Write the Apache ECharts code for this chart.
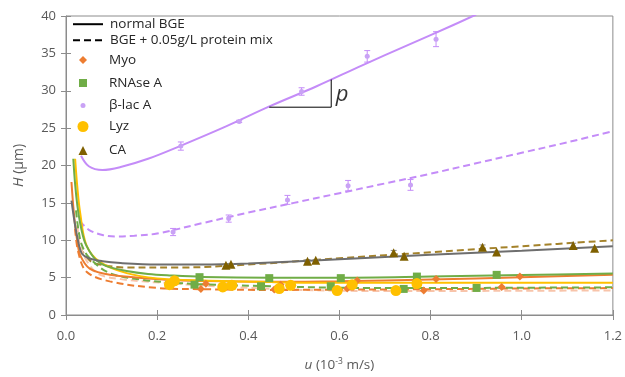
<!DOCTYPE html>
<html>
<head>
<meta charset="utf-8">
<script src="https://cdn.jsdelivr.net/npm/echarts@6/dist/echarts.min.js"></script>
<style>
  html, body { margin: 0; padding: 0; background: #fff; }
  #chart { width: 625px; height: 377px; }
</style>
</head>
<body>
<div id="chart"></div>
<script>
// ---- measured points (u in 1e-3 m/s, H in um, e = error half-width) ----
const blacNormalU = [0.252, 0.380, 0.517, 0.661, 0.812];
const blacNormalH = [22.6, 25.9, 29.9, 34.6, 36.9];
const blacNormalE = [0.55, 0.15, 0.5, 0.77, 1.0];
const blacMixU = [0.235, 0.357, 0.486, 0.619, 0.756];
const blacMixH = [11.1, 12.9, 15.4, 17.3, 17.4];
const blacMixE = [0.48, 0.48, 0.6, 0.7, 0.72];

const myoNormalU = [0.307, 0.471, 0.639, 0.812, 0.996];
const myoNormalH = [4.19, 4.05, 4.62, 4.8, 5.14];
const myoMixU = [0.296, 0.457, 0.617, 0.785, 0.956];
const myoMixH = [3.49, 3.4, 3.53, 3.27, 3.75];

const rnaseNormalU = [0.293, 0.446, 0.603, 0.770, 0.945];
const rnaseNormalH = [5.06, 4.93, 4.93, 5.14, 5.37];
const rnaseMixU = [0.282, 0.428, 0.581, 0.741, 0.901];
const rnaseMixH = [4.06, 3.84, 3.84, 3.49, 3.62];

const lyzNormalU = [0.238, 0.364, 0.493, 0.628, 0.770];
const lyzNormalH = [4.58, 3.97, 3.97, 4.06, 4.2];
const lyzMixU = [0.227, 0.344, 0.468, 0.595, 0.724];
const lyzMixH = [4.06, 3.75, 3.53, 3.27, 3.27];

const caNormalU = [0.362, 0.548, 0.742, 0.945, 1.16];
const caNormalH = [6.8, 7.33, 7.85, 8.42, 8.94];
const caNormalE = [0.1, 0.1, 0.1, 0.12, 0.15];
const caMixU = [0.351, 0.530, 0.719, 0.914, 1.113];
const caMixH = [6.67, 7.2, 8.34, 9.07, 9.3];
const caMixE = [0.15, 0.2, 0.3, 0.3, 0.3];

// ---- fitted van Deemter curves ----
const blacNormalFitU = [0.033, 0.05, 0.08, 0.12, 0.18, 0.25, 0.35, 0.45, 0.55, 0.65, 0.75, 0.85, 0.9];
const blacNormalFitH = [21.3, 19.9, 19.4, 19.8, 20.9, 22.6, 25.2, 28.0, 30.6, 33.4, 36.1, 38.8, 40.2];
const blacMixFitU = [0.03, 0.05, 0.08, 0.11, 0.15, 0.2, 0.3, 0.4, 0.5, 0.6, 0.7, 0.8, 0.9, 1.0, 1.1, 1.2];
const blacMixFitH = [12.6, 11.4, 10.7, 10.5, 10.6, 10.9, 12.3, 13.7, 15.0, 16.3, 17.6, 18.9, 20.3, 21.7, 23.1, 24.6];

const caNormalFitU = [0.012, 0.02, 0.028, 0.035, 0.05, 0.08, 0.12, 0.2, 0.3, 0.4, 0.6, 0.8, 1.0, 1.2];
const caNormalFitH = [15.3, 12.0, 9.5, 8.2, 7.6, 7.2, 6.95, 6.75, 6.75, 6.9, 7.45, 8.05, 8.6, 9.2];
const caMixFitU = [0.03, 0.056, 0.08, 0.13, 0.25, 0.4, 0.6, 0.8, 1.0, 1.2];
const caMixFitH = [9.0, 7.1, 6.7, 6.35, 6.35, 6.75, 7.6, 8.4, 9.2, 10.0];

const rnaseNormalFitU = [0.016, 0.02, 0.025, 0.031, 0.041, 0.055, 0.067, 0.09, 0.133, 0.18, 0.227, 0.3, 0.45, 0.6, 0.8, 1.0, 1.2];
const rnaseNormalFitH = [20.9, 17.5, 14.6, 12.3, 9.8, 8.2, 7.3, 6.5, 5.9, 5.5, 5.3, 5.1, 5.0, 5.0, 5.15, 5.35, 5.55];
const rnaseMixFitU = [0.022, 0.027, 0.035, 0.052, 0.096, 0.168, 0.227, 0.3, 0.45, 0.6, 0.8, 1.0, 1.2];
const rnaseMixFitH = [14.0, 11.5, 9.3, 7.6, 5.6, 4.7, 4.36, 4.1, 3.85, 3.65, 3.6, 3.65, 3.7];

const lyzNormalFitU = [0.02, 0.025, 0.031, 0.045, 0.074, 0.133, 0.2, 0.3, 0.45, 0.6, 0.8, 1.0, 1.2];
const lyzNormalFitH = [20.9, 17.0, 13.7, 9.3, 7.1, 5.6, 4.9, 4.6, 4.4, 4.3, 4.3, 4.3, 4.3];
const lyzMixFitU = [0.025, 0.031, 0.05, 0.074, 0.12, 0.168, 0.227, 0.3, 0.45, 0.6, 0.8, 1.0, 1.2];
const lyzMixFitH = [12.0, 9.3, 6.8, 5.4, 4.8, 4.5, 4.25, 3.95, 3.5, 3.25, 3.2, 3.25, 3.27];

const myoNormalFitU = [0.012, 0.016, 0.02, 0.025, 0.031, 0.052, 0.096, 0.227, 0.3, 0.45, 0.6, 0.8, 1.0, 1.2];
const myoNormalFitH = [17.8, 14.5, 12.0, 9.8, 8.0, 6.2, 5.4, 4.7, 4.55, 4.45, 4.5, 4.75, 5.05, 5.37];
const myoMixFitU = [0.02, 0.027, 0.045, 0.096, 0.205, 0.3, 0.45, 0.6, 0.8, 1.0, 1.2];
const myoMixFitH = [11.5, 8.4, 5.8, 4.5, 3.6, 3.45, 3.35, 3.4, 3.45, 3.55, 3.6];

// slope triangle "p" on the beta-lac curve
const slopeU = [0.446, 0.582, 0.582];
const slopeH = [27.8, 27.8, 31.5];
const slopeLabelAt = [0.606, 29.5];

const xTickStep = 0.2;
const yTickStep = 5;

// ---- helpers ----
const zip = (a, b, c) => a.map((v, i) => c ? [v, b[i], c[i]] : [v, b[i]]);

const COLORS = {
  myo: '#ED7D31',
  rnase: '#70AD47',
  blac: '#C48CF8',
  blacDot: '#C9A2F5',
  lyz: '#FFC000',
  lyzMix: '#F8C4AA',
  ca: '#7F6000',
  caLine: '#6E6E6E',
  caMixLine: '#A4822A'
};
const DASH = [7, 4];
const FONT = 'Open Sans';

function fit(name, u, h, color, dashed, z) {
  return {
    name: name,
    type: 'line',
    data: zip(u, h),
    smooth: 0.35,
    symbol: 'none',
    silent: true,
    z: z || 2,
    lineStyle: { color: color, width: 2, type: dashed ? DASH : 'solid' }
  };
}

function dots(name, u, h, symbol, size, color) {
  return {
    name: name,
    type: 'scatter',
    data: zip(u, h),
    symbol: symbol,
    symbolSize: size,
    itemStyle: { color: color, opacity: 1 },
    z: 5
  };
}

function errorBars(u, h, e, color) {
  return {
    type: 'custom',
    data: zip(u, h, e),
    z: 4,
    silent: true,
    renderItem: function (params, api) {
      const x = api.value(0), y = api.value(1), d = api.value(2);
      const top = api.coord([x, y + d]);
      const bot = api.coord([x, y - d]);
      const w = 3;
      const style = { stroke: color, lineWidth: 1 };
      return {
        type: 'group',
        children: [
          { type: 'line', shape: { x1: top[0], y1: top[1], x2: bot[0], y2: bot[1] }, style: style },
          { type: 'line', shape: { x1: top[0] - w, y1: top[1], x2: top[0] + w, y2: top[1] }, style: style },
          { type: 'line', shape: { x1: bot[0] - w, y1: bot[1], x2: bot[0] + w, y2: bot[1] }, style: style }
        ]
      };
    }
  };
}

// legend rows: vertical centre, icon size (0 = line sample); icons centred at x 83, text at x 109
const legendRows = [
  { name: 'normal BGE', y: 26, size: 0 },
  { name: 'BGE + 0.05g/L protein mix', y: 42, size: 0 },
  { name: 'Myo', y: 57, size: 8 },
  { name: 'RNAse A', y: 80, size: 8 },
  { name: '\u03b2-lac A', y: 101, size: 5 },
  { name: 'Lyz', y: 125, size: 11 },
  { name: 'CA', y: 148, size: 9 }
];
const legendIconX = 83;
const legendTextX = 109;

function legendFor(r) {
  const textStyle = { fontFamily: FONT, fontSize: 13.5, color: '#262626' };
  if (r.size === 0) {
    return {
      data: [r.name], left: 72, top: r.y - 9, padding: 0,
      itemWidth: 30, itemHeight: 18, selectedMode: false,
      itemStyle: { opacity: 0 },
      textStyle: Object.assign(textStyle, { padding: [0, 0, 0, legendTextX - 72 - 30 - 5] })
    };
  }
  const left = legendIconX - r.size / 2;
  return {
    data: [r.name], left: left, top: r.y - r.size / 2, padding: 0,
    itemWidth: r.size, itemHeight: r.size, selectedMode: false,
    textStyle: Object.assign(textStyle, { padding: [0, 0, 0, legendTextX - left - r.size - 5] })
  };
}

const chart = echarts.init(document.getElementById('chart'));

const axisGray = '#8C8C8C';
const labelGray = '#595959';

const option = {
  animation: false,
  backgroundColor: '#fff',
  grid: {
    left: 66, right: 10, top: 16, bottom: 56,
    show: true, borderColor: axisGray, borderWidth: 1
  },
  legend: legendRows.map(legendFor),
  xAxis: [
    {
      type: 'value', min: 0, max: 1.2, interval: xTickStep, position: 'bottom',
      name: '{i|u} (10{sup|-3} m/s)',
      nameLocation: 'middle', nameGap: 42,
      nameTextStyle: {
        fontFamily: FONT, fontSize: 13.5, color: labelGray,
        rich: {
          i: { fontFamily: FONT, fontSize: 13.5, fontStyle: 'italic', color: labelGray },
          sup: { fontFamily: FONT, fontSize: 8.5, color: labelGray, padding: [0, 0, 7, 0] }
        }
      },
      axisLine: { lineStyle: { color: axisGray } },
      axisTick: { length: 5, lineStyle: { color: axisGray } },
      splitLine: { show: false },
      axisLabel: {
        fontFamily: FONT, fontSize: 13, color: labelGray, margin: 15,
        formatter: v => v.toFixed(1)
      }
    },
    {
      type: 'value', min: 0, max: 1.2, interval: xTickStep, position: 'bottom',
      axisLine: { show: false },
      axisTick: { inside: true, length: 5, lineStyle: { color: axisGray } },
      axisLabel: { show: false }, splitLine: { show: false }
    }
  ],
  yAxis: [
    {
      type: 'value', min: 0, max: 40, interval: yTickStep, position: 'left',
      name: '{i|H} (\u00b5m)',
      nameLocation: 'middle', nameGap: 40, nameRotate: 90,
      nameTextStyle: {
        fontFamily: FONT, fontSize: 14, color: labelGray,
        rich: { i: { fontFamily: FONT, fontSize: 14, fontStyle: 'italic', color: labelGray } }
      },
      axisLine: { show: true, lineStyle: { color: axisGray } },
      axisTick: { show: true, length: 5, lineStyle: { color: axisGray } },
      splitLine: { show: false },
      axisLabel: { fontFamily: FONT, fontSize: 13, color: labelGray, margin: 10 }
    },
    {
      type: 'value', min: 0, max: 40, interval: yTickStep, position: 'left',
      axisLine: { show: false },
      axisTick: { show: true, inside: true, length: 5, lineStyle: { color: axisGray } },
      axisLabel: { show: false }, splitLine: { show: false }
    }
  ],
  series: [
    // legend-only entries for line styles
    { name: 'normal BGE', type: 'line', data: [], symbol: 'none', itemStyle: { color: '#000' }, lineStyle: { color: '#000', width: 2 } },
    { name: 'BGE + 0.05g/L protein mix', type: 'line', data: [], symbol: 'none', itemStyle: { color: '#000' }, lineStyle: { color: '#000', width: 2, type: DASH } },

    fit('blac fit', blacNormalFitU, blacNormalFitH, COLORS.blac, false),
    fit('blac mix fit', blacMixFitU, blacMixFitH, COLORS.blac, true),
    fit('ca mix fit', caMixFitU, caMixFitH, COLORS.caMixLine, true),
    fit('ca fit', caNormalFitU, caNormalFitH, COLORS.caLine, false, 3),
    fit('lyz mix fit', lyzMixFitU, lyzMixFitH, COLORS.lyzMix, true),
    fit('myo mix fit', myoMixFitU, myoMixFitH, COLORS.myo, true),
    fit('rnase mix fit', rnaseMixFitU, rnaseMixFitH, COLORS.rnase, true),
    fit('myo fit', myoNormalFitU, myoNormalFitH, COLORS.myo, false),
    fit('lyz fit', lyzNormalFitU, lyzNormalFitH, COLORS.lyz, false),
    fit('rnase fit', rnaseNormalFitU, rnaseNormalFitH, COLORS.rnase, false),

    errorBars(blacNormalU, blacNormalH, blacNormalE, COLORS.blac),
    errorBars(blacMixU, blacMixH, blacMixE, COLORS.blac),
    errorBars(caNormalU, caNormalH, caNormalE, '#8A8A8A'),
    errorBars(caMixU, caMixH, caMixE, '#8A8A8A'),

    dots('Myo', myoNormalU, myoNormalH, 'diamond', 8, COLORS.myo),
    dots('Myo', myoMixU, myoMixH, 'diamond', 8, COLORS.myo),
    dots('RNAse A', rnaseNormalU, rnaseNormalH, 'rect', 8, COLORS.rnase),
    dots('RNAse A', rnaseMixU, rnaseMixH, 'rect', 8, COLORS.rnase),
    dots('\u03b2-lac A', blacNormalU, blacNormalH, 'circle', 5, COLORS.blacDot),
    dots('\u03b2-lac A', blacMixU, blacMixH, 'circle', 5, COLORS.blacDot),
    dots('Lyz', lyzNormalU, lyzNormalH, 'circle', 11, COLORS.lyz),
    dots('Lyz', lyzMixU, lyzMixH, 'circle', 11, COLORS.lyz),
    dots('CA', caNormalU, caNormalH, 'triangle', 9, COLORS.ca),
    dots('CA', caMixU, caMixH, 'triangle', 9, COLORS.ca),

    // slope triangle and its label
    {
      name: 'slope', type: 'line', data: zip(slopeU, slopeH), symbol: 'none', silent: true, z: 6,
      lineStyle: { color: '#000', width: 1 }
    },
    {
      name: 'p', type: 'scatter', data: [slopeLabelAt], symbolSize: 0, silent: true, z: 6,
      label: {
        show: true, position: 'inside', formatter: 'p',
        fontFamily: FONT, fontSize: 22, fontStyle: 'italic', color: '#000'
      }
    }
  ]
};

chart.setOption(option);
</script>
</body>
</html>
